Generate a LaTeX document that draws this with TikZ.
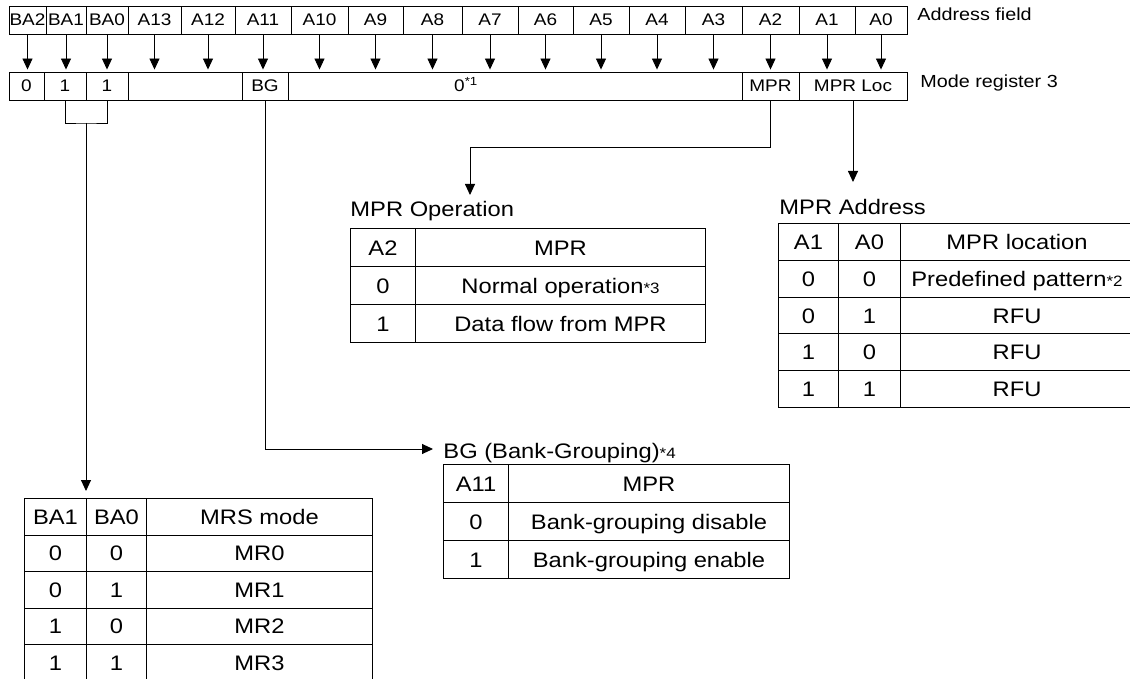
\documentclass[tikz,border=0pt]{standalone}
\usepackage{fontspec}
\setmainfont{Liberation Sans}[FakeStretch=1.13]
\usetikzlibrary{arrows.meta}
\newcommand\astnote[1]{{\fontsize{15}{15}\selectfont *#1}}

\begin{document}
\begin{tikzpicture}[x=1pt,y=-1pt,line width=0.9pt,>={Triangle[width=10pt,length=11pt]},
  cell/.style={draw,inner sep=0pt,minimum height=28pt,text height=12pt,text depth=0pt,font=\fontsize{16.8}{20}\selectfont},
  tcell/.style={draw,line width=1pt,anchor=north west,inner sep=0pt,text height=15pt,text depth=0pt,font=\fontsize{21}{25}\selectfont},
  side/.style={anchor=base west,inner sep=0pt,font=\fontsize{17.5}{21}\selectfont},
  title/.style={anchor=base west,inner sep=0pt,font=\fontsize{21}{25}\selectfont}]
  \useasboundingbox (0,0) rectangle (1130,679);
  \clip (0,0) rectangle (1130,679);
  % address field and mode register 3
  \foreach \xl/\xr/\txt [count=\i] in {9/46/BA2,46/86/BA1,86/128/BA0,128/181/A13,181/235/A12,235/291/A11,291/348/A10,348/403/A9,403/462/A8,462/518/A7,518/573/A6,573/629/A5,629/685/A4,685/742/A3,742/799/A2,799/855/A1,855/907/A0}
    \node[cell,minimum width=\xr pt-\xl pt] (a\i) at ({(\xl+\xr)/2},20) {\txt};
  \foreach \xl/\xr/\txt [count=\i] in {9/44/0,44/86/1,86/128/1,128/242/,242/288/BG,288/742/,742/799/MPR,799/907/MPR Loc}
    \node[cell,minimum width=\xr pt-\xl pt] (r\i) at ({(\xl+\xr)/2},86) {\txt};
  \node[cell,draw=none] (zero) at (466,86) {0\textsuperscript{*1}};
  \foreach \i in {1,...,17}
    \draw[->,shorten >=2pt] (a\i.south) -- (a\i.south |- r1.north);
  \node[side] (addrlbl) at (917,21) {Address field};
  \node[side] (modelbl) at (920,88) {Mode register 3};

  % MRS mode
  \foreach \ca/\cb/\cc [count=\i from 0] in {BA1/BA0/MRS mode,0/0/MR0,0/1/MR1,1/0/MR2,1/1/MR3}{
    \node[tcell,minimum width=62pt,minimum height=36.5pt] (mrsa\i) at (24,{498+36.5*\i}) {\ca};
    \node[tcell,minimum width=60pt,minimum height=36.5pt] (mrsb\i) at (86,{498+36.5*\i}) {\cb};
    \node[tcell,minimum width=226pt,minimum height=36.5pt] (mrsc\i) at (146,{498+36.5*\i}) {\cc};
  }

  % MPR operation
  \node[title] (optitle) at (350,217) {MPR Operation};
  \foreach \ca/\cb [count=\i from 0] in {A2/MPR,0/{Normal operation\astnote{3}},1/Data flow from MPR}{
    \node[tcell,minimum width=65pt,minimum height=38pt] (opa\i) at (350,{228+38*\i}) {\ca};
    \node[tcell,minimum width=290pt,minimum height=38pt] (opb\i) at (415,{228+38*\i}) {\cb};
  }

  % MPR address
  \node[title] (adtitle) at (779,215) {MPR Address};
  \foreach \ca/\cb/\cc [count=\i from 0] in {A1/A0/MPR location,0/0/{Predefined pattern\astnote{2}},0/1/RFU,1/0/RFU,1/1/RFU}{
    \node[tcell,minimum width=60pt,minimum height=36.8pt] (ada\i) at (778,{223+36.8*\i}) {\ca};
    \node[tcell,minimum width=62pt,minimum height=36.8pt] (adb\i) at (838,{223+36.8*\i}) {\cb};
    \node[tcell,minimum width=233pt,minimum height=36.8pt] (adc\i) at (900,{223+36.8*\i}) {\cc};
  }

  % bank grouping
  \node[title] (bgtitle) at (443,458) {BG (Bank-Grouping)\astnote{4}};
  \foreach \ca/\cb [count=\i from 0] in {A11/MPR,0/Bank-grouping disable,1/Bank-grouping enable}{
    \node[tcell,minimum width=65pt,minimum height=38pt] (bga\i) at (443,{464+38*\i}) {\ca};
    \node[tcell,minimum width=281pt,minimum height=38pt] (bgb\i) at (508,{464+38*\i}) {\cb};
  }

  % connectors
  \coordinate (brk) at (86,123);
  \coordinate (opin) at (470,195);
  \coordinate (adin) at (853,182);
  \coordinate (bgin) at (433,449);
  \draw (r2.south) |- (brk) -| (r3.south);
  \draw[->] (brk) -- ([yshift=7pt]mrsb0.north west);
  \draw[->] (r7.south) -- ++(0,47) -| (opin);
  \draw[->] (r8.south) -- (adin);
  \draw[->] (r5.south) |- (bgin);
\end{tikzpicture}
\end{document}
